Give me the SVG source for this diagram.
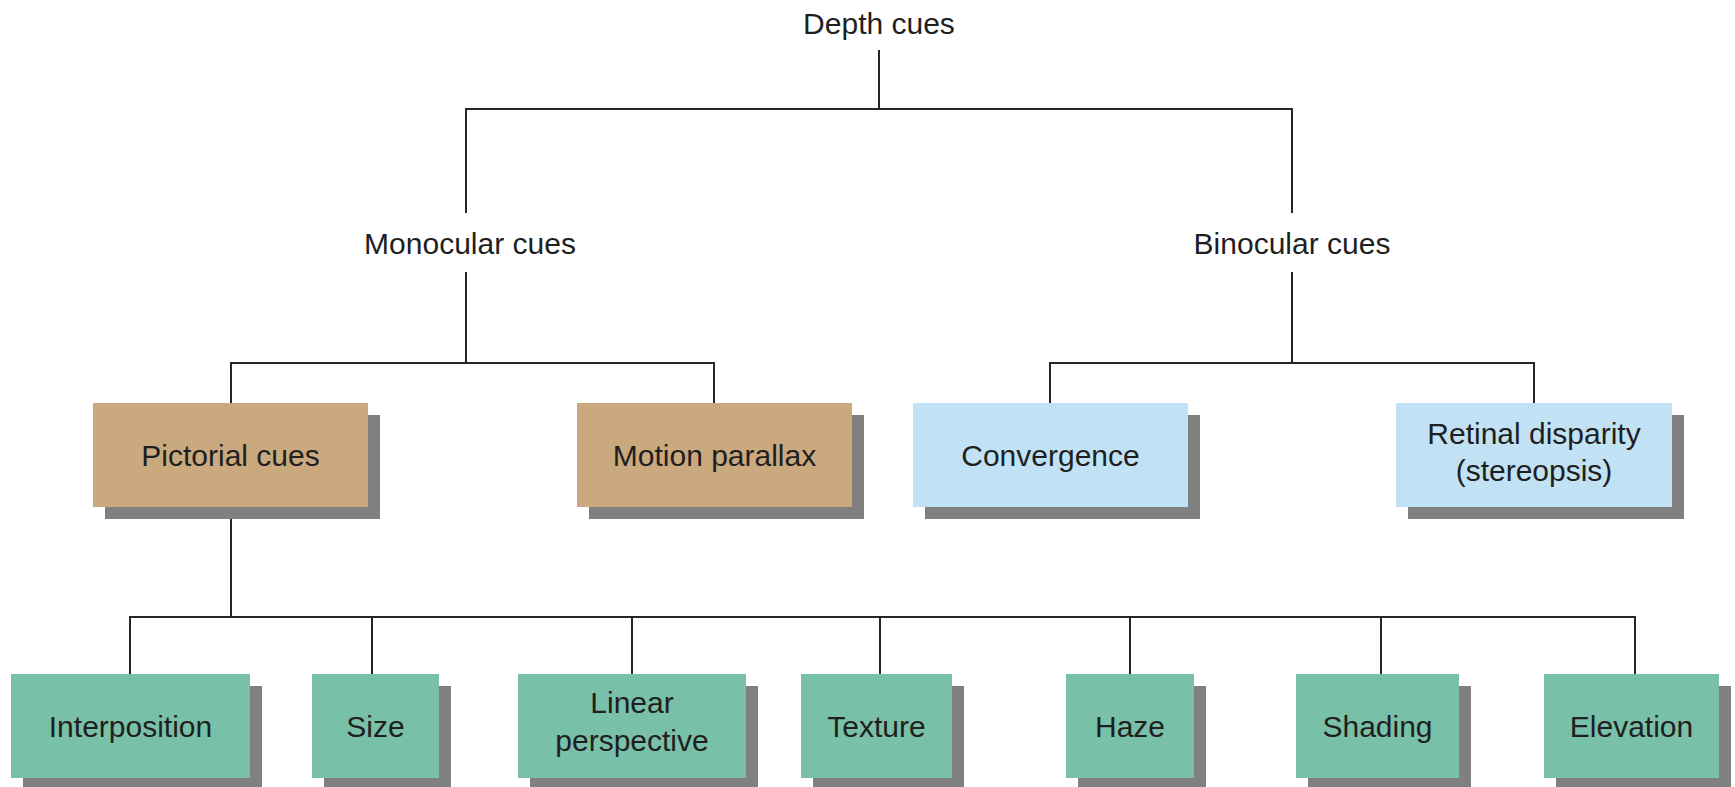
<svg xmlns="http://www.w3.org/2000/svg" width="1735" height="787" viewBox="0 0 1735 787">
  <style>
    .lbl { font-family: "Liberation Sans", Arial, sans-serif; font-size: 30px; fill: #1f1f1f; text-anchor: middle; }
    .shadow { fill: #808080; }
    .tan { fill: #CBA97F; }
    .blue { fill: #C1E2F4; }
    .green { fill: #79C0A8; }
    .conn { fill: none; stroke: #262626; stroke-width: 2; }
  </style>
  <rect width="1735" height="787" fill="#ffffff"/>

  <!-- tree connectors -->
  <g id="connectors" class="conn">
    <path d="M879,50 V109 M466,213 V109 H1292 V213"/>
    <path d="M466,272 V363 M231,403 V363 H714 V403"/>
    <path d="M1292,272 V363 M1050,403 V363 H1534 V403"/>
    <path d="M231,507 V617 M130,674 V617 H1635 V674"/>
    <path d="M372,617 V674 M632,617 V674 M880,617 V674 M1130,617 V674 M1381,617 V674"/>
  </g>

  <!-- plain-text headings -->
  <g id="depth-cues"><text class="lbl" x="879" y="34">Depth cues</text></g>
  <g id="monocular-cues"><text class="lbl" x="470" y="254">Monocular cues</text></g>
  <g id="binocular-cues"><text class="lbl" x="1292" y="254">Binocular cues</text></g>

  <!-- monocular branch -->
  <g id="pictorial-cues">
    <rect class="shadow" x="105" y="415" width="275" height="104"/>
    <rect class="tan" x="93" y="403" width="275" height="104"/>
    <text class="lbl" x="230.5" y="466">Pictorial cues</text>
  </g>
  <g id="motion-parallax">
    <rect class="shadow" x="589" y="415" width="275" height="104"/>
    <rect class="tan" x="577" y="403" width="275" height="104"/>
    <text class="lbl" x="714.5" y="466">Motion parallax</text>
  </g>

  <!-- binocular branch -->
  <g id="convergence">
    <rect class="shadow" x="925" y="415" width="275" height="104"/>
    <rect class="blue" x="913" y="403" width="275" height="104"/>
    <text class="lbl" x="1050.5" y="466">Convergence</text>
  </g>
  <g id="retinal-disparity">
    <rect class="shadow" x="1408" y="415" width="276" height="104"/>
    <rect class="blue" x="1396" y="403" width="276" height="104"/>
    <text class="lbl" x="1534" y="444">Retinal disparity</text>
    <text class="lbl" x="1534" y="481">(stereopsis)</text>
  </g>

  <!-- pictorial cues -->
  <g id="interposition">
    <rect class="shadow" x="23" y="686" width="239" height="104"/>
    <rect class="green" x="11" y="674" width="239" height="104"/>
    <text class="lbl" x="130.5" y="737">Interposition</text>
  </g>
  <g id="size">
    <rect class="shadow" x="324" y="686" width="127" height="104"/>
    <rect class="green" x="312" y="674" width="127" height="104"/>
    <text class="lbl" x="375.5" y="737">Size</text>
  </g>
  <g id="linear-perspective">
    <rect class="shadow" x="530" y="686" width="228" height="104"/>
    <rect class="green" x="518" y="674" width="228" height="104"/>
    <text class="lbl" x="632" y="713">Linear</text>
    <text class="lbl" x="632" y="751">perspective</text>
  </g>
  <g id="texture">
    <rect class="shadow" x="813" y="686" width="151" height="104"/>
    <rect class="green" x="801" y="674" width="151" height="104"/>
    <text class="lbl" x="876.5" y="737">Texture</text>
  </g>
  <g id="haze">
    <rect class="shadow" x="1078" y="686" width="128" height="104"/>
    <rect class="green" x="1066" y="674" width="128" height="104"/>
    <text class="lbl" x="1130" y="737">Haze</text>
  </g>
  <g id="shading">
    <rect class="shadow" x="1308" y="686" width="163" height="104"/>
    <rect class="green" x="1296" y="674" width="163" height="104"/>
    <text class="lbl" x="1377.5" y="737">Shading</text>
  </g>
  <g id="elevation">
    <rect class="shadow" x="1556" y="686" width="175" height="104"/>
    <rect class="green" x="1544" y="674" width="175" height="104"/>
    <text class="lbl" x="1631.5" y="737">Elevation</text>
  </g>
</svg>
